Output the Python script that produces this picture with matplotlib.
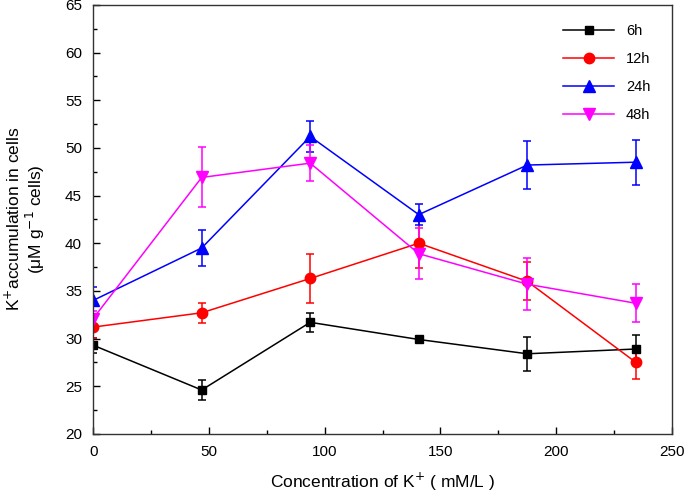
import matplotlib
matplotlib.use('Agg')
import matplotlib.pyplot as plt
from matplotlib.ticker import MultipleLocator

plt.rcParams['font.family'] = ['Liberation Sans', 'DejaVu Sans']

# K+ concentration (mM/L)
conc = [0, 46.875, 93.75, 140.625, 187.5, 234.375]

k_6h = [29.3, 24.6, 31.7, 29.9, 28.4, 28.9]
err_6h = [0.8, 1.0, 1.0, 0.3, 1.8, 1.5]
k_12h = [31.2, 32.7, 36.3, 40.0, 36.0, 27.5]
err_12h = [1.1, 1.05, 2.6, 2.6, 2.0, 1.7]
k_24h = [34.0, 39.5, 51.2, 43.0, 48.2, 48.5]
err_24h = [1.4, 1.9, 1.6, 1.1, 2.5, 2.35]
k_48h = [32.1, 46.9, 48.4, 38.9, 35.7, 33.7]
err_48h = [0.8, 3.15, 1.9, 2.7, 2.7, 2.0]

series = [
    ('6h', k_6h, err_6h, 'black', 's', 6),
    ('12h', k_12h, err_12h, 'red', 'o', 7.5),
    ('24h', k_24h, err_24h, 'blue', '^', 8.5),
    ('48h', k_48h, err_48h, 'magenta', 'v', 8.5),
]

fig = plt.figure(figsize=(6.85, 4.93), dpi=100)
ax = fig.add_axes([0.136, 0.12, 0.845, 0.87])

handles, names = [], []
for name, y, e, c, m, ms in series:
    cont = ax.errorbar(conc, y, yerr=e, color=c, marker=m, markersize=ms,
                       linewidth=1.1, elinewidth=1.1, capsize=3, capthick=1.1,
                       label=name)
    handles.append(cont[0])  # line only, no error bars in legend
    names.append(name)

ax.set_xlim(0, 250)
ax.set_ylim(20, 65)
ax.xaxis.set_major_locator(MultipleLocator(50))
ax.xaxis.set_minor_locator(MultipleLocator(25))
ax.yaxis.set_major_locator(MultipleLocator(5))
ax.yaxis.set_minor_locator(MultipleLocator(2.5))
ax.tick_params(which='both', direction='in', labelsize=11, width=1.0, pad=8)
ax.tick_params(which='major', length=5)
ax.tick_params(which='minor', length=3)
for sp in ax.spines.values():
    sp.set_linewidth(1.0)
    sp.set_color('#333333')

ax.set_xlabel('Concentration of K$^{+}$ ( mM/L )', fontsize=12.5)
ax.set_ylabel('K$^{+}$accumulation in cells\n(μM g$^{-1}$ cells)', fontsize=12.5,
              linespacing=1.05)
ax.xaxis.set_label_coords(0.5, -0.085)
ax.yaxis.set_label_coords(-0.08, 0.5)

ax.legend(handles, names, loc='upper right', frameon=False, fontsize=10.5,
          handlelength=3.5, labelspacing=0.95, bbox_to_anchor=(0.985, 0.985))

fig.savefig('out.png', dpi=100)
